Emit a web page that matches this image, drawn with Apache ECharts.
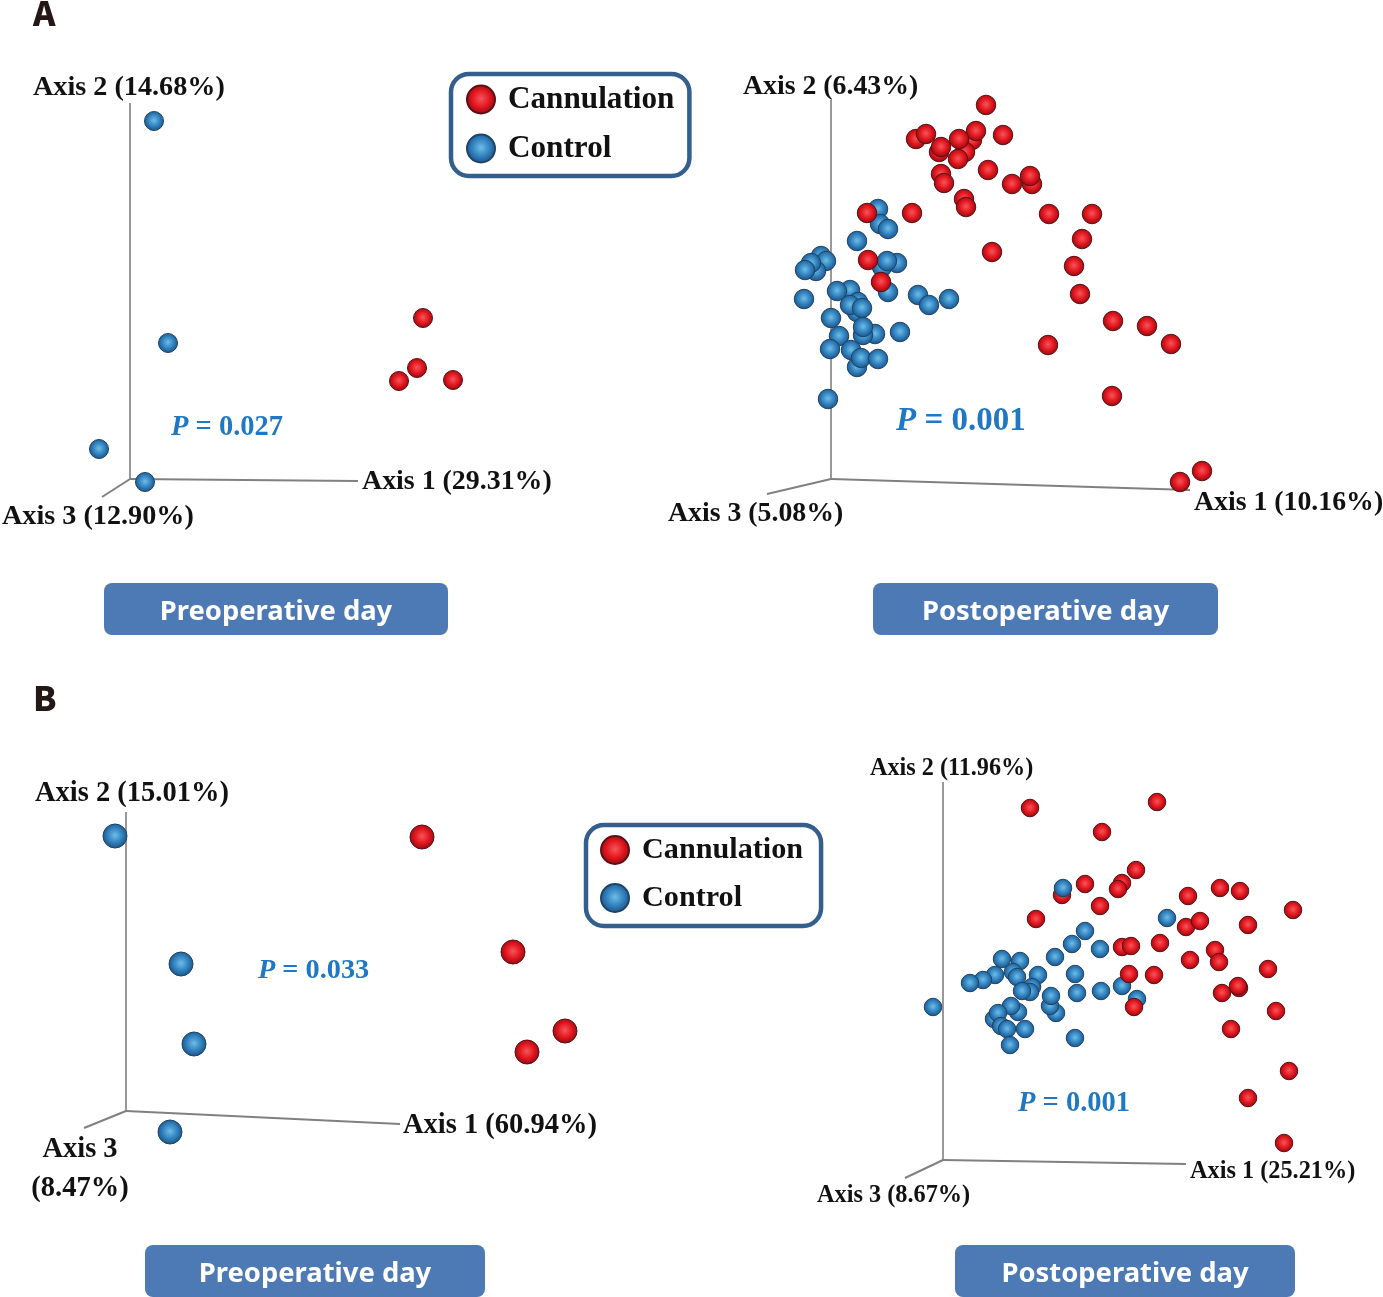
<!DOCTYPE html>
<html>
<head>
<meta charset="utf-8">
<style>html,body{margin:0;padding:0;background:#fff}#c{width:1383px;height:1297px}</style>
<script src="https://cdn.jsdelivr.net/npm/echarts@6/dist/echarts.min.js"></script>
</head>
<body>
<div id="c"></div>
<script>
// Values: PCoA scores in plot units from each panel's origin
const preA_cannulation = [[293,161],[287,111],[269,98],[323,99]];
const preA_control = [[24,358],[38,136],[-31,30],[15,-3]];
const postA_cannulation = [[155,374],[85,340],[95,345],[141,339],[134,327],[108,327],[110,332],[145,348],[128,340],[127,320],[172,344],[157,309],[110,305],[113,296],[181,295],[201,295],[199,303],[133,280],[135,272],[36,266],[81,266],[218,265],[261,265],[251,240],[161,227],[37,219],[243,213],[50,197],[249,185],[282,158],[316,153],[340,135],[217,134],[281,83],[371,8],[349,-3]];
const postA_control = [[47,270],[49,255],[57,250],[26,238],[-10,223],[-5,218],[-15,208],[-20,216],[-26,209],[-27,180],[51,212],[66,216],[56,218],[57,187],[19,189],[6,188],[27,177],[26,167],[19,174],[31,171],[87,184],[98,174],[118,180],[0,161],[44,145],[32,144],[32,152],[8,143],[69,147],[-1,130],[20,129],[26,112],[30,121],[47,120],[-3,80]];
const preB_cannulation = [[296,274],[387,159],[439,80],[401,59]];
const preB_control = [[-11,275],[55,147],[68,67],[44,-21]];
const postB_cannulation = [[87,352],[214,358],[159,328],[193,290],[179,277],[175,271],[142,276],[119,265],[157,254],[93,241],[245,264],[277,272],[297,269],[350,250],[243,233],[257,239],[305,235],[179,213],[188,214],[217,217],[272,210],[276,198],[247,200],[325,191],[186,186],[211,185],[296,172],[295,174],[279,167],[333,149],[191,153],[288,131],[346,89],[305,62],[341,17]];
const postB_control = [[224,242],[142,229],[129,216],[157,211],[112,203],[59,201],[77,199],[70,188],[74,183],[95,185],[132,186],[52,185],[40,180],[27,177],[89,173],[87,168],[79,169],[134,167],[158,169],[179,174],[194,161],[113,147],[107,154],[108,164],[75,148],[68,154],[51,141],[55,147],[58,134],[64,131],[82,131],[67,115],[132,122],[-10,153]];
const postB_controlFront = [[120,272]];

const groupNames = ['Cannulation','Control'];
const panelLetters = ['A','B'];
const dayNames = ['Preoperative day','Postoperative day','Preoperative day','Postoperative day'];
const pValues = ['0.027','0.001','0.033','0.001'];
const axis1Labels = ['Axis 1 (29.31%)','Axis 1 (10.16%)','Axis 1 (60.94%)','Axis 1 (25.21%)'];
const axis2Labels = ['Axis 2 (14.68%)','Axis 2 (6.43%)','Axis 2 (15.01%)','Axis 2 (11.96%)'];
const axis3Labels = ['Axis 3 (12.90%)','Axis 3 (5.08%)','Axis 3\n(8.47%)','Axis 3 (8.67%)'];

// Layout only
const panels = [
 {box:[0,60,690,480],  x:[-130,560], y:[-61,419], size:19, up:376, a1:[228,-2],  a3:[-28,-18], lab1:[362,482,27.9], lab2:[33,88,28.2],  lab3:[2,517,28.2], p:[171,428,28.5], btn:[104,583,344,52],
  red:preA_cannulation, blue:preA_control},
 {box:[700,60,683,480],x:[-131,552], y:[-61,419], size:19.5, up:379, a1:[359,-11], a3:[-64,-15], lab1:[1194,503,27.8], lab2:[743,87,27.8], lab3:[668,514,27.8], p:[896,421,33], btn:[873,583,345,52],
  red:postA_cannulation, blue:postA_control},
 {box:[0,780,600,420], x:[-126,474], y:[-89,331], size:24, up:299, a1:[274,-13], a3:[-42,-17], lab1:[403,1126,28.5], lab2:[35,794,28.5], lab3:[80,1169,28.5,'center'], p:[258,971,28.3], btn:[145,1245,340,52],
  red:preB_cannulation, blue:preB_control},
 {box:[800,760,583,440],x:[-143,440],y:[-40,400], size:17.5, up:378, a1:[243,-4],  a3:[-38,-18], lab1:[1190,1172,24.3], lab2:[870,769,24.2], lab3:[817,1196,24.3], p:[1018,1104,28.5], btn:[955,1245,340,52],
  red:postB_cannulation, blue:postB_control, front:postB_controlFront}
];
const serif = '"Liberation Serif","Times New Roman",serif';
const redBall = {type:'radial',x:.5,y:.47,r:.56,colorStops:[{offset:0,color:'#f6555a'},{offset:.55,color:'#e0141c'},{offset:1,color:'#7d0c12'}]};
const blueBall = {type:'radial',x:.5,y:.47,r:.56,colorStops:[{offset:0,color:'#6dbde9'},{offset:.55,color:'#2f7fbc'},{offset:1,color:'#1b4a78'}]};
const redBorder = '#5b1015', blueBorder = '#1f4468';

const grid=[], xAxis=[], yAxis=[], series=[], graphic=[];
panels.forEach((p,i)=>{
  grid.push({left:p.box[0],top:p.box[1],width:p.box[2],height:p.box[3]});
  xAxis.push({type:'value',gridIndex:i,min:p.x[0],max:p.x[1],show:false});
  yAxis.push({type:'value',gridIndex:i,min:p.y[0],max:p.y[1],show:false});
  [[[0,0],[0,p.up]],[[0,0],p.a1],[[0,0],p.a3]].forEach((d,k)=>series.push({
    type:'line',name:'axis'+(k+1),xAxisIndex:i,yAxisIndex:i,data:d,symbol:'none',silent:true,z:1,
    lineStyle:{color:k===0?'#999999':'#808080',width:2}
  }));
  const pts=(name,data,color,border,z)=>series.push({
    type:'scatter',name,xAxisIndex:i,yAxisIndex:i,data,symbol:'circle',symbolSize:p.size,z,
    itemStyle:{color,borderColor:border,borderWidth:1,opacity:1}
  });
  pts(groupNames[1],p.blue,blueBall,blueBorder,3);
  pts(groupNames[0],p.red,redBall,redBorder,4);
  if(p.front) pts(groupNames[1],p.front,blueBall,blueBorder,5);

  const label=(text,l)=>graphic.push({type:'text',x:l[0],y:l[1],silent:true,z:10,
    style:{text,fill:'#111',font:`bold ${l[2]}px ${serif}`,textAlign:l[3]||'left',textVerticalAlign:'middle',lineHeight:39}});
  label(axis1Labels[i],p.lab1); label(axis2Labels[i],p.lab2); label(axis3Labels[i],p.lab3);
  graphic.push({type:'text',x:p.p[0],y:p.p[1],silent:true,z:10,style:{
    rich:{i:{font:`italic bold ${p.p[2]}px ${serif}`,fill:'#1f78c1'},n:{font:`bold ${p.p[2]}px ${serif}`,fill:'#1f78c1'}},
    text:`{i|P}{n| = ${pValues[i]}}`,textVerticalAlign:'middle'}});
  graphic.push({type:'rect',silent:true,z:9,shape:{x:p.btn[0],y:p.btn[1],width:p.btn[2],height:p.btn[3],r:8},style:{fill:'#4d7ab5'}});
  graphic.push({type:'text',silent:true,z:10,x:p.btn[0]+p.btn[2]/2,y:p.btn[1]+p.btn[3]/2+3,style:{text:dayNames[i],fill:'#fff',font:'bold 27.4px "Noto Sans",sans-serif',textAlign:'center',textVerticalAlign:'middle'}});
});
[[panelLetters[0],33,13],[panelLetters[1],33,698]].forEach(l=>graphic.push({type:'text',x:l[1],y:l[2],silent:true,z:10,
  style:{text:l[0],fill:'#231815',font:'900 34px "Noto Sans CJK KR","Noto Sans",sans-serif',textVerticalAlign:'middle'}}));

const legendBase={orient:'vertical',data:groupNames,selectedMode:false,icon:'circle',itemWidth:28,itemHeight:28,
  borderColor:'#345f8c',borderWidth:4.5,borderRadius:18,backgroundColor:'#fff',z:20};
const legendText=size=>({fontFamily:serif,fontWeight:'bold',fontSize:size,color:'#111',padding:[2,0,0,8]});
const legend=[
  Object.assign({},legendBase,{left:451,top:74,itemGap:18,padding:[10,15,12,15],textStyle:legendText(31.2)}),
  Object.assign({},legendBase,{left:586,top:825,itemGap:18,padding:[10,18,13,14],textStyle:legendText(30.2)})
];

const chart=echarts.init(document.getElementById('c'),null,{renderer:'canvas'});
chart.setOption({animation:false,backgroundColor:'#fff',grid,xAxis,yAxis,series,legend,graphic,tooltip:{show:false}});
</script>
</body>
</html>
